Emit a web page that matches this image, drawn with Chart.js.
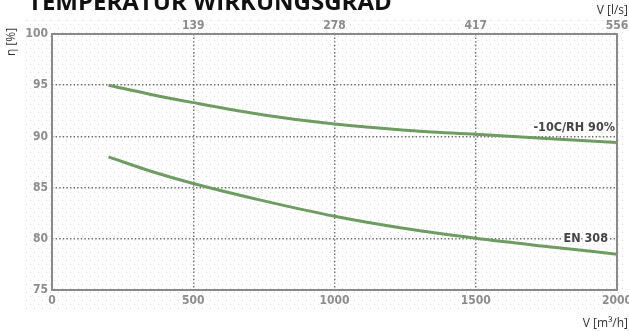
<!DOCTYPE html>
<html>
<head>
<meta charset="utf-8">
<script src="https://cdn.jsdelivr.net/npm/chart.js@4/dist/chart.umd.min.js"></script>
<style>
  html, body { margin: 0; padding: 0; background: #fff; }
  #wrap { width: 629px; height: 331px; position: relative; }
</style>
</head>
<body>
<div id="wrap"><canvas id="c" width="629" height="331"></canvas></div>
<script>
// Air flow (m³/h) and temperature efficiency (%) of the two rating conditions
const airflow = [200, 350, 500, 750, 1000, 1250, 1500, 1750, 2000];
const effColdHumid = [95.0, 94.1, 93.3, 92.1, 91.2, 90.6, 90.2, 89.8, 89.4];
const effEN308 = [88.0, 86.6, 85.4, 83.7, 82.2, 81.0, 80.05, 79.25, 78.5];
const seriesNames = ['-10C/RH 90%', 'EN 308'];
const yTicks = [75, 80, 85, 90, 95, 100];
const xTicks = [0, 500, 1000, 1500, 2000];

const titleText = 'TEMPERATUR WIRKUNGSGRAD';
const lineGreen = '#6f9c62';
const tickGrey = '#8c8c8c';
const gridGrey = '#6a6a6a';
const tickFont = { family: '"DejaVu Sans Condensed", "DejaVu Sans"', size: 12, weight: 'bold' };

function pts(ys) { return airflow.map((x, i) => ({ x, y: ys[i] })); }

// faint dotted paper texture behind the plot
const texture = {
  id: 'texture',
  beforeDraw(chart) {
    const ctx = chart.ctx;
    ctx.save();
    ctx.fillStyle = '#fff';
    ctx.fillRect(0, 0, chart.width, chart.height);
    ctx.fillStyle = '#d6d6d6';
    for (let y = 20; y < 310; y += 4) {
      const off = ((y - 20) / 4) % 2 ? 4 : 0;
      for (let x = 26 + off; x < 624; x += 8) ctx.fillRect(x, y, 1, 1);
    }
    ctx.restore();
  }
};

// title, unit labels, plot frame and series labels
const decor = {
  id: 'decor',
  afterDatasetsDraw(chart) {
    const ctx = chart.ctx;
    const a = chart.chartArea;
    const xs = chart.scales.x, ys = chart.scales.y;
    ctx.save();
    // frame
    ctx.strokeStyle = '#8a8a8a';
    ctx.lineWidth = 2;
    ctx.strokeRect(a.left, a.top, a.right - a.left, a.bottom - a.top);

    // series labels with white halo
    ctx.font = 'bold 12.5px "DejaVu Sans Condensed", "DejaVu Sans"';
    ctx.textAlign = 'right';
    ctx.textBaseline = 'middle';
    const labels = [
      { t: seriesNames[0], x: xs.getPixelForValue(2000) - 2, y: ys.getPixelForValue(effColdHumid[effColdHumid.length - 1]) - 15 },
      { t: seriesNames[1], x: xs.getPixelForValue(2000) - 9, y: ys.getPixelForValue(80) }
    ];
    labels.forEach(l => {
      ctx.lineWidth = 3;
      ctx.strokeStyle = 'rgba(255,255,255,0.95)';
      ctx.strokeText(l.t, l.x, l.y);
      ctx.fillStyle = '#444';
      ctx.fillText(l.t, l.x, l.y);
    });

    // title (top edge runs off the canvas)
    ctx.textAlign = 'left';
    ctx.textBaseline = 'alphabetic';
    ctx.fillStyle = '#111';
    ctx.font = 'bold 24px "Open Sans"';
    ctx.fillText(titleText, 28, 10);

    // unit labels
    ctx.fillStyle = '#333';
    ctx.font = '12px "Open Sans"';
    ctx.textAlign = 'right';
    ctx.fillText('V [l/s]', 628, 14);
    ctx.fillText('V [m³/h]', 628, 327);
    ctx.save();
    ctx.translate(15, 42);
    ctx.rotate(-Math.PI / 2);
    ctx.textAlign = 'center';
    ctx.fillText('η [%]', 0, 0);
    ctx.restore();
    ctx.restore();
  }
};

new Chart(document.getElementById('c'), {
  type: 'line',
  data: {
    datasets: [
      { label: seriesNames[0], data: pts(effColdHumid), borderColor: lineGreen, borderWidth: 3, pointRadius: 0, cubicInterpolationMode: 'monotone' },
      { label: seriesNames[1], data: pts(effEN308), borderColor: lineGreen, borderWidth: 3, pointRadius: 0, cubicInterpolationMode: 'monotone' }
    ]
  },
  options: {
    responsive: false,
    animation: false,
    layout: { padding: { left: 0, right: 12, top: 0, bottom: 0 } },
    plugins: { legend: { display: false }, tooltip: { enabled: false } },
    scales: {
      x: {
        type: 'linear', position: 'bottom', min: 0, max: 2000,
        afterBuildTicks: s => { s.ticks = xTicks.map(v => ({ value: v })); },
        afterFit: s => { s.height = 41; s.paddingLeft = 0; s.paddingRight = 0; },
        ticks: { color: tickGrey, font: tickFont, padding: 4, maxRotation: 0, callback: v => String(v) },
        grid: { lineWidth: 1.4, drawTicks: false, color: c => (c.tick && (c.tick.value === 0 || c.tick.value === 2000)) ? 'transparent' : gridGrey },
        border: { display: false, dash: [1.4, 2.2] }
      },
      x2: {
        type: 'linear', position: 'top', min: 0, max: 2000,
        afterBuildTicks: s => { s.ticks = xTicks.slice(1).map(v => ({ value: v })); },
        afterFit: s => { s.height = 34; s.paddingLeft = 0; s.paddingRight = 0; },
        ticks: { color: tickGrey, font: tickFont, padding: 1, maxRotation: 0, callback: v => String(Math.round(v / 3.6)) },
        grid: { display: false, drawTicks: false },
        border: { display: false }
      },
      y: {
        type: 'linear', min: 75, max: 100,
        afterBuildTicks: s => { s.ticks = yTicks.map(v => ({ value: v })); },
        afterFit: s => { s.width = 52; s.paddingTop = 0; s.paddingBottom = 0; },
        ticks: { color: tickGrey, font: tickFont, padding: 4 },
        grid: { lineWidth: 1.4, drawTicks: false, color: c => (c.tick && (c.tick.value === 75 || c.tick.value === 100)) ? 'transparent' : gridGrey },
        border: { display: false, dash: [1.4, 2.2] }
      }
    }
  },
  plugins: [texture, decor]
});
</script>
</body>
</html>
